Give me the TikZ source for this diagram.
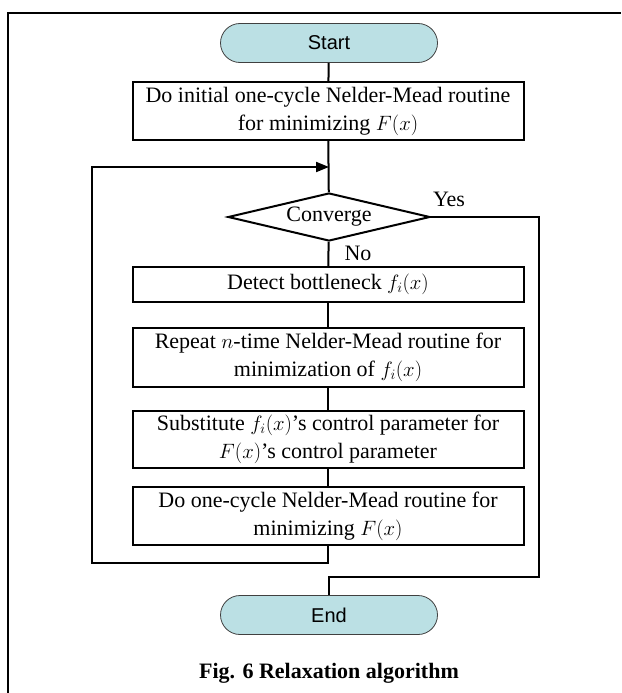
\documentclass[tikz,border=0pt]{standalone}
\usepackage{fontspec}
\setmainfont{Liberation Serif}
\newfontfamily\arialfont{Liberation Sans}
\usepackage{tikz}
\usetikzlibrary{shapes.geometric}
\usetikzlibrary{shapes.misc}
\usetikzlibrary{arrows.meta}
\usepackage{xcolor}
\definecolor{termfill}{RGB}{187,224,228}

\begin{document}
\begin{tikzpicture}[x=1pt, y=-1pt]
        % ================= styles =================
        \tikzset{
            % start / end: rounded terminal
            term/.style={rounded rectangle, draw=black!75, line width=0.8pt, fill=termfill,
                minimum width=217pt, minimum height=39pt, inner sep=0pt,
                font=\arialfont\fontsize{20}{24}\selectfont},
            % process box
            procbox/.style={rectangle, draw=black, line width=2pt, minimum width=391pt,
                inner sep=0pt, align=center, font=\fontsize{22}{28}\selectfont},
            % decision
            decide/.style={diamond, draw=black, line width=2pt, aspect=4.2, inner sep=0pt,
                minimum width=202pt, minimum height=48pt, font=\fontsize{22}{26}\selectfont},
            % connectors
            flow/.style={line width=2pt, black},
            lab/.style={font=\fontsize{22}{26}\selectfont}
        }

        \useasboundingbox (0,0) rectangle (621,693);

        % outer frame (only top and left visible)
        \draw[line width=2.2pt] (8,693) -- (8,13) -- (621,13);

        % ================= nodes =================
        \node[term] (start) at (329,43) {Start};
        \node[procbox, minimum height=58pt] (init) at (328,111)
            {Do initial one-cycle Nelder-Mead routine\\for minimizing $F(x)$};
        \node[decide] (conv) at (329,217) {Converge};
        \node[procbox, minimum height=35pt] (detect) at (328,284.5)
            {Detect bottleneck $f_i(x)$};
        \node[procbox, minimum height=59pt] (repeatn) at (328,357.5)
            {Repeat $n$-time Nelder-Mead routine for\\minimization of $f_i(x)$};
        \node[procbox, minimum height=57pt] (subst) at (328,439.5)
            {Substitute $f_i(x)$’s control parameter for\\$F(x)$’s control parameter};
        \node[procbox, minimum height=58pt] (cycle) at (328,516)
            {Do one-cycle Nelder-Mead routine for\\minimizing $F(x)$};
        \node[term] (finish) at (329,615) {End};

        \node[lab] (yes) at (449,199) {Yes};
        \node[lab] (no) at (358,253) {No};

        \node[font=\bfseries\fontsize{22}{26}\selectfont] (caption) at (329,673)
            {Fig. 6 Relaxation algorithm};

        % ================= connectors =================
        \coordinate (merge) at (329,167);
        \coordinate (loopL) at (92,563);
        \coordinate (yesR) at (539,577);

        \draw[flow] (start) -- (init);
        \draw[flow] (init) -- (conv);
        \draw[flow] (conv) -- (detect);
        \draw[flow] (detect) -- (repeatn);
        \draw[flow] (repeatn) -- (subst);
        \draw[flow] (subst) -- (cycle);

        % loop back to the top of the decision
        \draw[flow, -{Triangle[length=13pt, width=10pt]}] (cycle.south) |- (loopL) |- (merge);

        % Yes branch down to End
        \draw[flow] (conv.east) -| (yesR) -| (finish.north);

    \end{tikzpicture}
\end{document}
